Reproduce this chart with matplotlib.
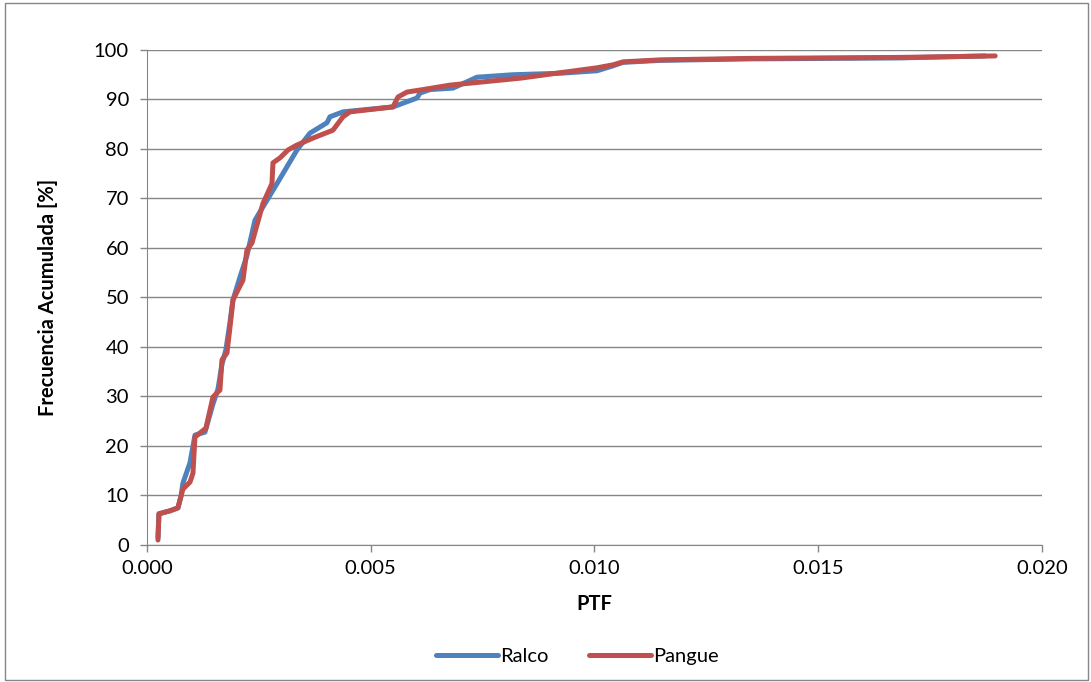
import matplotlib.pyplot as plt
from matplotlib.patches import Rectangle

plt.rcParams['font.family'] = ['Lato', 'DejaVu Sans']

# Frecuencia acumulada vs PTF
ralco_ptf = [0.000246, 0.000268, 0.000514, 0.000693, 0.000760, 0.000804, 0.000961, 0.001073,
             0.001296, 0.001475, 0.001587, 0.001676, 0.001765, 0.001855, 0.001922, 0.002078,
             0.002235, 0.002413, 0.002592, 0.002905, 0.003128, 0.003352, 0.003642, 0.004022,
             0.004089, 0.004380, 0.005497, 0.006034, 0.006101, 0.006324, 0.006838, 0.007374,
             0.008179, 0.009229, 0.010056, 0.010413, 0.010637, 0.011464, 0.013475, 0.016827,
             0.018726]
ralco_frec = [1.5, 6.3, 6.9, 7.5, 9.8, 12.5, 16.6, 22.2,
              22.8, 28.5, 31.5, 36.5, 39.5, 45.0, 49.5, 54.1,
              58.5, 65.6, 68.3, 73.0, 76.4, 79.8, 83.2, 85.3,
              86.5, 87.5, 88.5, 90.3, 91.3, 92.0, 92.3, 94.5,
              95.0, 95.3, 95.8, 96.8, 97.5, 97.9, 98.2, 98.4,
              98.8]

pangue_ptf = [0.000246, 0.000268, 0.000514, 0.000693, 0.000737, 0.000804, 0.000961, 0.001028,
              0.001050, 0.001073, 0.001207, 0.001318, 0.001475, 0.001631, 0.001676, 0.001788,
              0.001855, 0.001922, 0.002145, 0.002235, 0.002346, 0.002592, 0.002793, 0.002816,
              0.002972, 0.003151, 0.003352, 0.003709, 0.004156, 0.004380, 0.004536, 0.005497,
              0.005609, 0.005810, 0.006168, 0.006771, 0.007441, 0.008335, 0.009229, 0.010056,
              0.010413, 0.010637, 0.011464, 0.013475, 0.016827, 0.018953]
pangue_frec = [1.0, 6.3, 6.9, 7.5, 9.1, 11.3, 12.7, 14.5,
               18.2, 21.8, 22.8, 23.6, 29.9, 31.3, 37.4, 38.8,
               44.0, 49.5, 53.5, 59.6, 61.0, 69.0, 73.0, 77.2,
               78.2, 79.8, 80.8, 82.2, 83.8, 86.5, 87.5, 88.5,
               90.5, 91.5, 92.0, 92.9, 93.5, 94.3, 95.4, 96.4,
               97.0, 97.6, 98.0, 98.3, 98.5, 98.8]

x_ticks = [0.000, 0.005, 0.010, 0.015, 0.020]
y_ticks = list(range(0, 101, 10))

fig = plt.figure(figsize=(10.91, 6.82), dpi=100)
ax = fig.add_axes([0.1347, 0.2009, 0.8204, 0.7258])

ax.plot(ralco_ptf, ralco_frec, color='#4F81BD', linewidth=3.6,
        solid_capstyle='round', solid_joinstyle='round', label='Ralco')
ax.plot(pangue_ptf, pangue_frec, color='#C0504D', linewidth=3.6,
        solid_capstyle='round', solid_joinstyle='round', label='Pangue')

ax.set_xlim(0, 0.020)
ax.set_ylim(0, 100)
ax.set_xticks(x_ticks)
ax.set_xticklabels([f'{v:.3f}' for v in x_ticks])
ax.set_yticks(y_ticks)
ax.tick_params(labelsize=14.5, colors='#868686', labelcolor='black', length=5, width=1)
ax.tick_params(axis='x', pad=6)
ax.tick_params(axis='y', pad=8)

ax.grid(axis='y', color='#868686', linewidth=1)
ax.set_axisbelow(True)
for side in ['top', 'right']:
    ax.spines[side].set_visible(False)
for side in ['left', 'bottom']:
    ax.spines[side].set_color('#868686')

ax.set_xlabel('PTF', fontsize=14.5, fontweight='bold', labelpad=12)
ax.set_ylabel('Frecuencia Acumulada [%]', fontsize=14.5, fontweight='bold', labelpad=26)

fig.legend(loc='center', bbox_to_anchor=(0.529, 0.037), ncol=2, frameon=False,
           fontsize=14.5, handlelength=3.1, handletextpad=0.1, columnspacing=2.0)

# marco gris alrededor del grafico
fig.patches.append(Rectangle((0.005, 0.003), 0.992, 0.993, transform=fig.transFigure,
                             fill=False, edgecolor='#868686', linewidth=1))

fig.savefig('out.png', dpi=100)
